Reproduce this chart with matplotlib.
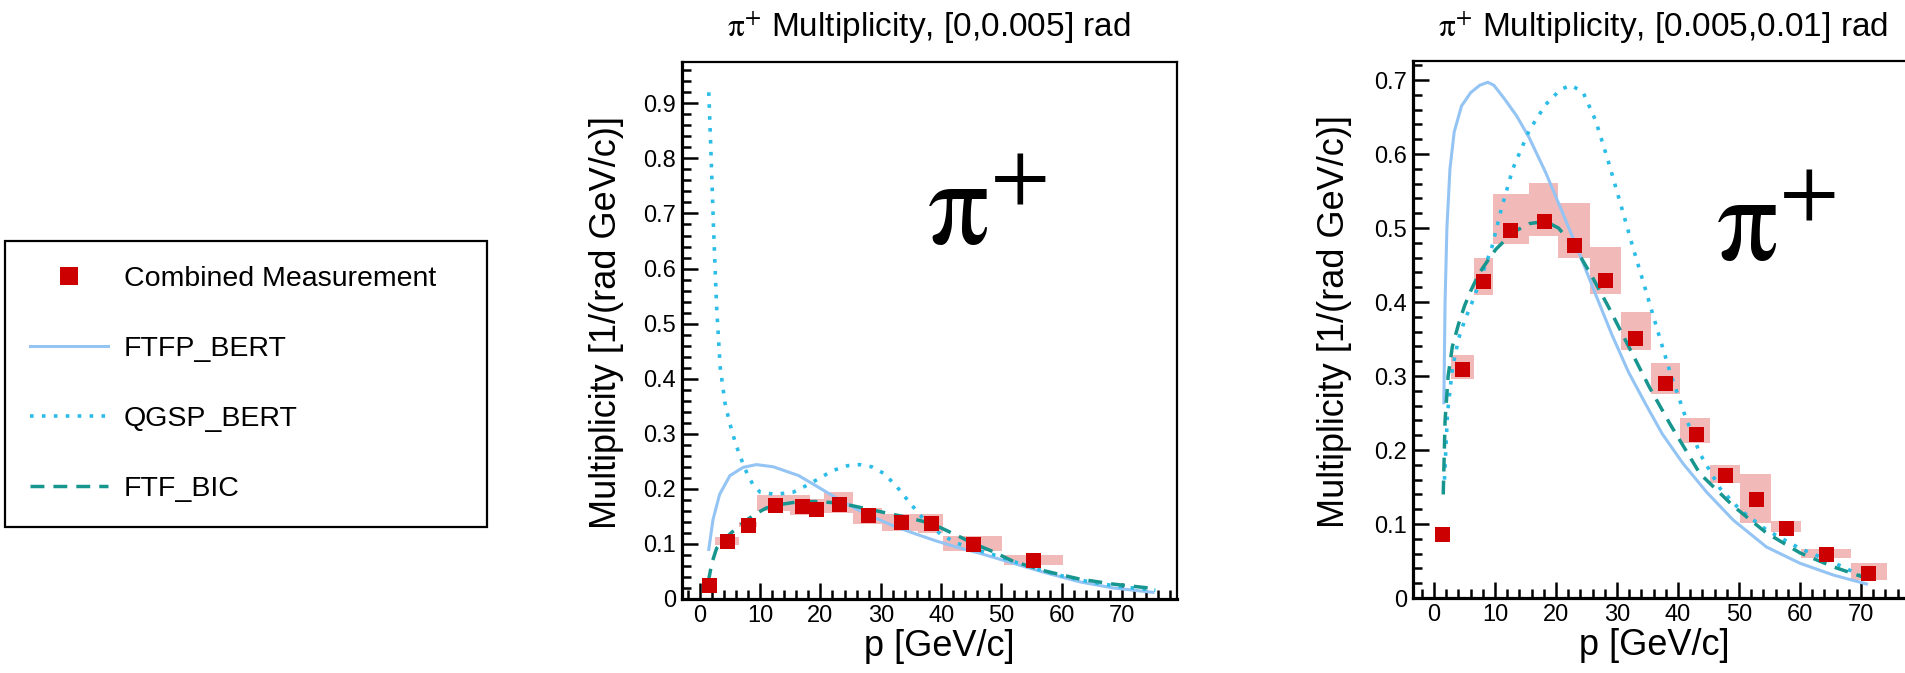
import matplotlib
matplotlib.use("Agg")
import matplotlib.pyplot as plt
from matplotlib.lines import Line2D
from matplotlib.ticker import FixedLocator, MultipleLocator

plt.rcParams['font.family'] = ['Liberation Sans', 'DejaVu Sans']
plt.rcParams['mathtext.fontset'] = 'stix'

# pi+ multiplicity, theta in [0, 0.005] rad
p1_p = [1.6, 4.6, 8.0, 12.4, 16.9, 19.3, 23.1, 27.8, 33.3, 38.4, 45.3, 55.3]
p1_mult = [0.025, 0.105, 0.135, 0.171, 0.168, 0.164, 0.172, 0.152, 0.139, 0.138, 0.099, 0.070]
p1_bin_lo = [0.6, 2.6, 6.5, 9.5, 15.0, 18.2, 20.6, 25.4, 30.2, 36.1, 40.3, 50.4]
p1_bin_hi = [2.6, 6.5, 9.5, 15.0, 18.2, 20.6, 25.4, 30.2, 36.1, 40.3, 50.1, 60.2]
p1_err_lo = [0.021, 0.098, 0.131, 0.160, 0.152, 0.148, 0.157, 0.137, 0.123, 0.120, 0.088, 0.062]
p1_err_hi = [0.029, 0.113, 0.140, 0.188, 0.188, 0.182, 0.195, 0.166, 0.154, 0.155, 0.115, 0.080]

p1_ftfp_p = [1.5, 2.2, 3.3, 5.0, 7.2, 9.4, 12.2, 16.4, 19.5, 22.7, 26.0, 29.3, 32.5, 35.8,
             39.0, 42.3, 46.4, 51.9, 57.5, 63.0, 68.5, 75.1]
p1_ftfp_m = [0.090, 0.144, 0.190, 0.224, 0.239, 0.244, 0.240, 0.224, 0.204, 0.183, 0.163, 0.146,
             0.131, 0.118, 0.106, 0.095, 0.083, 0.065, 0.047, 0.031, 0.020, 0.012]
p1_qgsp_p = [1.5, 1.9, 2.3, 2.8, 3.4, 4.2, 5.0, 6.0, 7.5, 8.8, 10.0, 12.5, 15.5, 17.5, 19.5,
             22.0, 24.5, 26.5, 28.5, 30.5, 32.5, 35.0, 37.5, 40.0, 42.5, 45.5, 48.5, 52.0,
             56.0, 60.0, 65.0, 70.0, 75.5]
p1_qgsp_m = [0.92, 0.80, 0.67, 0.53, 0.42, 0.355, 0.318, 0.280, 0.236, 0.208, 0.194, 0.190,
             0.194, 0.205, 0.217, 0.233, 0.242, 0.244, 0.240, 0.228, 0.206, 0.172, 0.140,
             0.117, 0.102, 0.090, 0.081, 0.068, 0.054, 0.042, 0.030, 0.022, 0.016]
p1_ftfbic_p = [1.4, 2.0, 2.8, 3.9, 5.0, 6.4, 8.0, 9.5, 11.0, 13.0, 16.0, 19.0, 22.0, 25.0,
               28.0, 31.0, 34.0, 37.0, 40.0, 42.5, 45.5, 48.6, 52.0, 57.5, 63.0, 68.5, 75.2]
p1_ftfbic_m = [0.030, 0.065, 0.092, 0.106, 0.118, 0.131, 0.145, 0.156, 0.165, 0.171, 0.176,
               0.177, 0.175, 0.170, 0.163, 0.156, 0.149, 0.141, 0.129, 0.116, 0.100, 0.086,
               0.068, 0.050, 0.036, 0.027, 0.019]

# pi+ multiplicity, theta in [0.005, 0.01] rad
p2_p = [1.3, 4.6, 8.0, 12.5, 18.0, 22.9, 28.0, 33.0, 37.9, 43.0, 47.7, 52.8, 57.7, 64.3, 71.2]
p2_mult = [0.087, 0.309, 0.428, 0.498, 0.509, 0.477, 0.430, 0.352, 0.290, 0.222, 0.166,
           0.134, 0.095, 0.060, 0.034]
p2_bin_lo = [0.5, 2.7, 6.5, 9.6, 15.6, 20.4, 25.5, 30.6, 35.5, 40.4, 45.3, 50.2, 55.2, 60.2, 68.3]
p2_bin_hi = [2.3, 6.5, 9.6, 15.6, 20.4, 25.5, 30.6, 35.5, 40.4, 45.3, 50.2, 55.2, 60.2, 68.3, 74.3]
p2_err_lo = [0.082, 0.296, 0.410, 0.478, 0.489, 0.459, 0.411, 0.335, 0.276, 0.210, 0.156,
             0.101, 0.089, 0.054, 0.024]
p2_err_hi = [0.092, 0.328, 0.459, 0.546, 0.561, 0.534, 0.474, 0.386, 0.318, 0.243, 0.180,
             0.168, 0.104, 0.066, 0.047]

p2_ftfp_p = [1.6, 1.8, 2.1, 2.6, 3.3, 4.5, 6.0, 7.5, 8.8, 9.8, 11.5, 13.5, 15.6, 18.3, 21.0,
             23.8, 26.5, 29.2, 31.9, 34.7, 37.4, 40.8, 44.7, 49.1, 54.5, 60.0, 65.5, 70.9]
p2_ftfp_m = [0.264, 0.40, 0.50, 0.58, 0.63, 0.665, 0.683, 0.693, 0.697, 0.693, 0.675, 0.652,
             0.622, 0.575, 0.522, 0.466, 0.410, 0.355, 0.305, 0.262, 0.222, 0.182, 0.143,
             0.105, 0.069, 0.047, 0.031, 0.019]
p2_qgsp_p = [1.7, 2.2, 3.0, 4.0, 5.0, 6.5, 8.0, 9.5, 11.0, 12.9, 15.6, 18.3, 20.7, 22.4, 24.4,
             26.5, 28.5, 30.6, 32.6, 34.7, 36.7, 38.7, 41.0, 43.6, 46.9, 50.2, 54.5, 60.0,
             65.5, 69.8]
p2_qgsp_m = [0.16, 0.25, 0.31, 0.35, 0.375, 0.405, 0.44, 0.475, 0.525, 0.580, 0.632, 0.667,
             0.687, 0.693, 0.684, 0.645, 0.592, 0.532, 0.474, 0.416, 0.360, 0.305, 0.250,
             0.195, 0.148, 0.119, 0.092, 0.067, 0.048, 0.031]
p2_ftfbic_p = [1.5, 1.8, 2.3, 3.0, 4.0, 5.0, 6.0, 7.4, 8.8, 10.1, 12.9, 15.6, 18.3, 20.4,
               23.1, 25.8, 28.5, 31.9, 35.3, 38.7, 43.6, 49.1, 54.5, 60.0, 65.5, 70.5]
p2_ftfbic_m = [0.14, 0.24, 0.30, 0.34, 0.37, 0.395, 0.415, 0.439, 0.456, 0.471, 0.494, 0.506,
               0.509, 0.500, 0.474, 0.436, 0.395, 0.340, 0.285, 0.235, 0.168, 0.124, 0.088,
               0.061, 0.042, 0.028]

x_ticks = [0, 10, 20, 30, 40, 50, 60, 70]
x_ticklabels = ['0', '10', '20', '30', '40', '50', '60', '70']
p1_y_ticks = [0, 0.1, 0.2, 0.3, 0.4, 0.5, 0.6, 0.7, 0.8, 0.9]
p1_y_ticklabels = ['0', '0.1', '0.2', '0.3', '0.4', '0.5', '0.6', '0.7', '0.8', '0.9']
p2_y_ticks = [0, 0.1, 0.2, 0.3, 0.4, 0.5, 0.6, 0.7]
p2_y_ticklabels = ['0', '0.1', '0.2', '0.3', '0.4', '0.5', '0.6', '0.7']

series_labels = ['Combined Measurement', 'FTFP_BERT', 'QGSP_BERT', 'FTF_BIC']

RED = '#cc0000'
PINK = '#f2b9b9'
C_FTFP = '#93c4f3'
C_QGSP = '#2bbde8'
C_FTFBIC = '#17958f'
LS_DOT = (0, (1.0, 2.3))
LS_DASH = (0, (4.0, 2.6))


def draw_panel(ax, p, mult, blo, bhi, elo, ehi, ftfp, qgsp, ftfbic):
    widths = [h - l for l, h in zip(blo, bhi)]
    heights = [h - l for l, h in zip(elo, ehi)]
    ax.bar(blo, heights, width=widths, bottom=elo, align='edge',
           color=PINK, edgecolor='none', zorder=1)
    ax.plot(*ftfp, color=C_FTFP, lw=2.2, zorder=2)
    ax.plot(*qgsp, color=C_QGSP, lw=2.6, ls=LS_DOT, dash_capstyle='butt', zorder=2)
    ax.plot(*ftfbic, color=C_FTFBIC, lw=2.5, ls=LS_DASH, zorder=2)
    ax.plot(p, mult, ls='none', marker='s', ms=10.8, mew=0, color=RED, zorder=3)


def style_axes(ax, xlim, ylim, yticks, yticklabels):
    ax.set_xlim(*xlim)
    ax.set_ylim(*ylim)
    ax.xaxis.set_major_locator(FixedLocator(x_ticks))
    ax.set_xticklabels(x_ticklabels)
    ax.xaxis.set_minor_locator(MultipleLocator(2))
    ax.yaxis.set_major_locator(FixedLocator(yticks))
    ax.set_yticklabels(yticklabels)
    ax.yaxis.set_minor_locator(MultipleLocator(0.02))
    ax.tick_params(which='both', direction='in', top=False, right=False,
                   width=1.8, color='black', labelsize=17)
    ax.tick_params(which='major', length=11.5)
    ax.tick_params(which='minor', length=6.5)
    ax.tick_params(axis='x', pad=4)
    ax.tick_params(axis='y', pad=4)
    for side in ('left', 'bottom'):
        ax.spines[side].set_linewidth(2.3)
    for side in ('top', 'right'):
        ax.spines[side].set_linewidth(1.6)


fig = plt.figure(figsize=(19.05, 6.73), dpi=100)
ax1 = fig.add_axes([0.3578, 0.1100, 0.2598, 0.7984])
ax2 = fig.add_axes([0.7416, 0.1114, 0.2625, 0.7979])

draw_panel(ax1, p1_p, p1_mult, p1_bin_lo, p1_bin_hi, p1_err_lo, p1_err_hi,
           (p1_ftfp_p, p1_ftfp_m), (p1_qgsp_p, p1_qgsp_m), (p1_ftfbic_p, p1_ftfbic_m))
draw_panel(ax2, p2_p, p2_mult, p2_bin_lo, p2_bin_hi, p2_err_lo, p2_err_hi,
           (p2_ftfp_p, p2_ftfp_m), (p2_qgsp_p, p2_qgsp_m), (p2_ftfbic_p, p2_ftfbic_m))

style_axes(ax1, (-3.0, 79.0), (0, 0.9757), p1_y_ticks, p1_y_ticklabels)
style_axes(ax2, (-3.5, 78.5), (0, 0.7257), p2_y_ticks, p2_y_ticklabels)

titles = [r'$\mathrm{\pi}^{+}$ Multiplicity, [0,0.005] rad',
          r'$\mathrm{\pi}^{+}$ Multiplicity, [0.005,0.01] rad']
for ax, title in zip((ax1, ax2), titles):
    ax.text(0.5, 1.046, title, transform=ax.transAxes, ha='center', va='baseline',
            fontsize=24)
    ax.set_xlabel('p [GeV/c]', fontsize=26, loc='right')
    ax.set_ylabel('Multiplicity [1/(rad GeV/c)]', fontsize=26, loc='top')

ax1.xaxis.set_label_coords(0.672, -0.056)
ax2.xaxis.set_label_coords(0.633, -0.056)
ax1.yaxis.set_label_coords(-0.117, 0.899)
ax2.yaxis.set_label_coords(-0.121, 0.899)

# big particle tag
ax1.text(37.6, 0.642, r'$\mathrm{\pi}^{+}$', fontsize=88, ha='left', va='baseline')
ax2.text(46.2, 0.455, r'$\mathrm{\pi}^{+}$', fontsize=88, ha='left', va='baseline')

handles = [
    Line2D([], [], ls='none', marker='s', ms=13, mew=0, color=RED),
    Line2D([], [], color=C_FTFP, lw=2.2),
    Line2D([], [], color=C_QGSP, lw=2.6, ls=LS_DOT, dash_capstyle='butt'),
    Line2D([], [], color=C_FTFBIC, lw=2.5, ls=LS_DASH),
]
leg = fig.legend(handles, series_labels, loc='upper left',
                 bbox_to_anchor=(0.0026, 0.6423, 0.2529, 0.0), mode='expand',
                 borderaxespad=0, fontsize=20.5, borderpad=0.87, labelspacing=1.55,
                 handlelength=2.75, handletextpad=0.55, fancybox=False,
                 framealpha=1, edgecolor='black')
leg.get_frame().set_linewidth(1.6)

fig.savefig('out.png', dpi=100)
